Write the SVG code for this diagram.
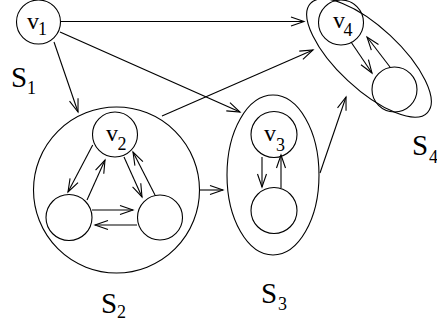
<svg xmlns="http://www.w3.org/2000/svg" width="437" height="327" viewBox="0 0 437 327">
<style>
.n{fill:none;stroke:#000;stroke-width:1.1}
.c line{stroke:#000;stroke-width:1.1;marker-end:url(#ah)}
text{font-family:"Liberation Serif","Times New Roman",serif;fill:#000}
.v{font-size:24px}
.s{font-size:29px}
.sub{font-size:18px}
</style>
<defs>
<marker id="ah" markerUnits="userSpaceOnUse" markerWidth="16" markerHeight="12" refX="13" refY="6" orient="auto" overflow="visible">
<path d="M0,1.5 L13,6 L0,10.5" fill="none" stroke="#000" stroke-width="1.1"/>
</marker>
</defs>
<rect width="437" height="327" fill="#fff"/>
<g id="S1">
<circle class="n" cx="38.5" cy="22" r="22"/>
<text class="v" x="27" y="29">v</text><text class="sub" x="38" y="35">1</text>
<text class="s" x="11" y="87">S</text><text class="sub" x="27" y="94">1</text>
</g>
<g id="S2">
<circle class="n" cx="116.5" cy="190" r="83"/>
<g id="v2"><circle class="n" cx="115" cy="134.5" r="22.5"/>
<text class="v" x="106" y="141">v</text><text class="sub" x="117.5" y="150">2</text></g>
<circle id="S2a" class="n" cx="69" cy="217.5" r="23"/>
<circle id="S2b" class="n" cx="160" cy="217.5" r="22.5"/>
<text class="s" x="101" y="313">S</text><text class="sub" x="117" y="318">2</text>
</g>
<g id="S3">
<ellipse class="n" cx="273" cy="175" rx="46" ry="80"/>
<g id="v3"><circle class="n" cx="274" cy="134.5" r="23"/>
<text class="v" x="264" y="141">v</text><text class="sub" x="276" y="151">3</text></g>
<circle id="S3a" class="n" cx="274" cy="210.5" r="23"/>
<text class="s" x="261" y="303">S</text><text class="sub" x="278" y="310">3</text>
</g>
<g id="S4">
<ellipse class="n" cx="369" cy="58" rx="80" ry="31" transform="rotate(43 369 58)"/>
<g id="v4"><circle class="n" cx="341" cy="22.5" r="22.5"/>
<text class="v" x="333" y="28">v</text><text class="sub" x="343.5" y="36">4</text></g>
<circle id="S4a" class="n" cx="394.5" cy="89.5" r="22.5"/>
<text class="s" x="412" y="155">S</text><text class="sub" x="429" y="163">4</text>
</g>
<g class="c" id="connectors">
<line x1="61" y1="21.5" x2="304" y2="21.5"/>
<line x1="60" y1="32" x2="240" y2="112"/>
<line x1="54" y1="42" x2="78" y2="112"/>
<line x1="162" y1="116" x2="313" y2="50"/>
<line x1="200" y1="190" x2="223" y2="190"/>
<line x1="320" y1="173" x2="346" y2="97"/>
<line x1="92.7" y1="145" x2="68" y2="192"/>
<line x1="87" y1="200" x2="105" y2="160"/>
<line x1="124" y1="157" x2="142" y2="197"/>
<line x1="155" y1="195" x2="133" y2="152"/>
<line x1="92" y1="210" x2="133" y2="210"/>
<line x1="137" y1="225" x2="95" y2="225"/>
<line x1="262" y1="157" x2="262" y2="187"/>
<line x1="281" y1="188" x2="281" y2="155"/>
<line x1="351" y1="42" x2="372" y2="73"/>
<line x1="390" y1="67" x2="367" y2="37"/>
</g>
</svg>
